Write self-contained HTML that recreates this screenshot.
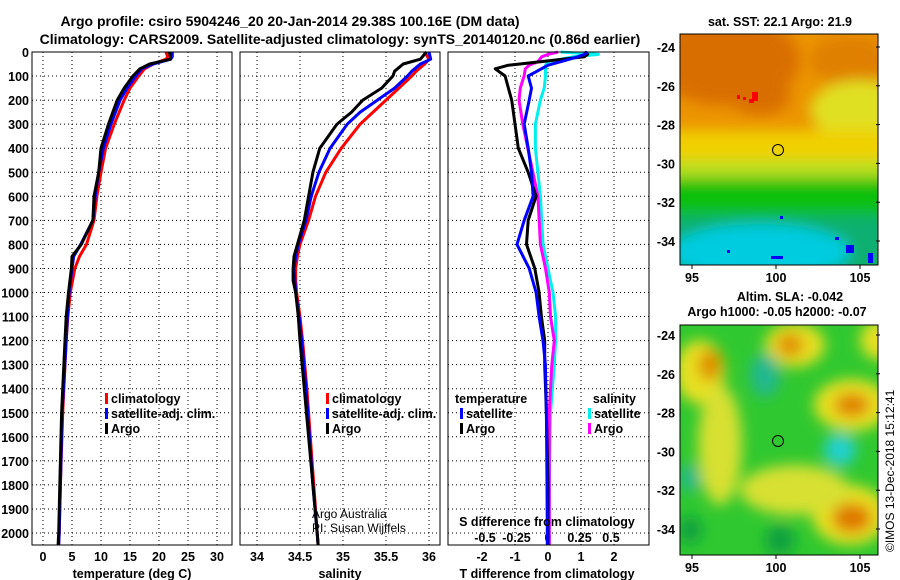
<!DOCTYPE html>
<html><head><meta charset="utf-8"><style>
body{margin:0;background:#fff}
svg{display:block;font-family:"Liberation Sans",sans-serif;font-weight:bold}
text{font-size:12.5px}
</style></head><body>
<svg id="c" width="900" height="580" viewBox="0 0 900 580">
<defs>
<filter id="bl" x="-50%" y="-50%" width="200%" height="200%"><feGaussianBlur stdDeviation="7"/></filter>
<clipPath id="m1"><rect x="680" y="34" width="198" height="231"/></clipPath>
<clipPath id="m2"><rect x="680" y="325" width="198" height="230"/></clipPath>
</defs>
<text x="290" y="26" text-anchor="middle" style="font-size:14px">Argo profile: csiro 5904246_20 20-Jan-2014 29.38S 100.16E (DM data)</text>
<text x="340" y="44" text-anchor="middle" style="font-size:14px">Climatology: CARS2009. Satellite-adjusted climatology: synTS_20140120.nc (0.86d earlier)</text>
<g id="g1"></g>
<g clip-path="url(#m1)">
<rect x="680" y="34" width="198" height="231" fill="#ec9400"/>
<g filter="url(#bl)">
<ellipse cx="725" cy="60" rx="75" ry="45" fill="#d86e00"/>
<ellipse cx="760" cy="95" rx="30" ry="20" fill="#d86e00"/>
<ellipse cx="850" cy="60" rx="40" ry="25" fill="#e08000"/>
<ellipse cx="860" cy="110" rx="50" ry="30" fill="#e0e020"/>
<rect x="660" y="130" width="240" height="40" fill="#f0d000"/>
<rect x="660" y="160" width="240" height="20" fill="#b8e020"/>
<rect x="660" y="178" width="240" height="100" fill="#10c010"/>
<rect x="660" y="215" width="240" height="60" fill="#10b070"/>
<ellipse cx="760" cy="252" rx="90" ry="28" fill="#00cce0"/>
</g>
<rect x="737" y="95" width="3" height="4" fill="#f00"/><rect x="743" y="97" width="3" height="3" fill="#f00"/><rect x="752" y="92" width="6" height="9" fill="#f00"/><rect x="749" y="99" width="5" height="4" fill="#f00"/>
<rect x="835" y="237" width="4" height="3" fill="#00f"/><rect x="846" y="245" width="8" height="8" fill="#00f"/><rect x="868" y="253" width="5" height="10" fill="#00f"/><rect x="771" y="256" width="12" height="3" fill="#00f"/><rect x="727" y="250" width="3" height="3" fill="#00f"/><rect x="780" y="216" width="3" height="3" fill="#00f"/>
<circle cx="778" cy="150" r="5.5" fill="none" stroke="#000"/>
</g>
<rect x="680" y="34" width="198" height="231" fill="none" stroke="#000"/>
<text x="780" y="26" text-anchor="middle">sat. SST: 22.1 Argo: 21.9</text>
<text x="790" y="301" text-anchor="middle">Altim. SLA: -0.042</text>
<text x="777" y="316" text-anchor="middle">Argo h1000: -0.05 h2000: -0.07</text>
<g clip-path="url(#m2)">
<rect x="680" y="325" width="198" height="230" fill="#30c830"/>
<g filter="url(#bl)">
<ellipse cx="700" cy="372" rx="25" ry="32" fill="#e8e020"/>
<ellipse cx="710" cy="365" rx="12" ry="16" fill="#e09000"/>
<ellipse cx="795" cy="345" rx="30" ry="22" fill="#e8e020"/>
<ellipse cx="790" cy="345" rx="14" ry="12" fill="#e09000"/>
<ellipse cx="852" cy="405" rx="38" ry="26" fill="#e8e020"/>
<ellipse cx="852" cy="405" rx="18" ry="12" fill="#e08000"/>
<ellipse cx="850" cy="515" rx="38" ry="30" fill="#e8e020"/>
<ellipse cx="852" cy="518" rx="20" ry="15" fill="#e07800"/>
<ellipse cx="720" cy="445" rx="22" ry="60" fill="#d8e030"/>
<ellipse cx="795" cy="490" rx="55" ry="25" fill="#d8e030"/>
<ellipse cx="880" cy="340" rx="20" ry="20" fill="#e8e020"/>
<ellipse cx="765" cy="375" rx="15" ry="22" fill="#20b890"/>
<ellipse cx="840" cy="450" rx="16" ry="16" fill="#20d0d0"/>
<ellipse cx="690" cy="478" rx="10" ry="14" fill="#20b890"/>
<ellipse cx="780" cy="540" rx="15" ry="15" fill="#10a040"/>
<ellipse cx="690" cy="530" rx="12" ry="14" fill="#10a040"/>
</g>
<circle cx="778" cy="441" r="5.5" fill="none" stroke="#000"/>
</g>
<rect x="680" y="325" width="198" height="230" fill="none" stroke="#000"/>
<text transform="translate(894,552) rotate(-90)" style="font-size:12px;font-weight:normal">©IMOS 13-Dec-2018 15:12:41</text>
<text x="312" y="518" style="font-size:12px;font-weight:normal">Argo Australia</text>
<text x="312" y="532" style="font-size:12px;font-weight:normal">PI: Susan Wijffels</text>
</svg>
<script>
const depthT=[0,20,30,50,70,100,150,200,300,400,500,600,700,800,850,900,1000,1100,1200,1500,1800,2000,2050];
const tempArgo=[21.8,22,22,18.4,16.7,15.5,14,12.8,11.3,10,9.6,8.8,8.6,6.6,5,4.9,4.4,4,3.8,3.2,2.9,2.7,2.6];
const tempClim=[21.2,21.5,21.2,19,17.5,16.5,15,14,12.3,10.8,10,9.3,8.8,7.5,6.3,5.5,4.7,4.3,4,3.4,3,2.8,2.7];
const tempSat=[22.3,22.3,22,19,17,16,14.5,13.3,11.7,10.4,9.6,9,8.6,6.5,5.3,5,4.5,4.2,4,3.3,3,2.8,2.7];
const depthS=[0,30,50,80,100,150,200,250,300,400,500,600,700,800,850,900,950,1000,1100,1200,1400,1600,1800,2000,2050];
const salArgo=[35.97,35.9,35.7,35.6,35.58,35.45,35.23,35.1,34.93,34.73,34.65,34.6,34.55,34.47,34.43,34.42,34.42,34.45,34.48,34.5,34.55,34.6,34.65,34.7,34.71];
const salClim=[35.95,36.0,35.95,35.85,35.8,35.65,35.5,35.35,35.2,34.98,34.8,34.68,34.6,34.5,34.47,34.45,34.45,34.46,34.5,34.53,34.58,34.62,34.66,34.7,34.71];
const salSat=[36.0,36.02,35.9,35.8,35.75,35.6,35.4,35.2,35.05,34.85,34.72,34.63,34.57,34.48,34.45,34.43,34.44,34.45,34.49,34.52,34.57,34.61,34.65,34.7,34.71];
const depthD=[0,10,20,40,55,70,100,150,200,300,400,500,600,700,800,900,1000,1100,1200,1300,1500,1800,2000,2050];
const tdiffArgo=[1.1,1.2,1.1,-0.2,-1.2,-1.6,-1.3,-1.2,-1.1,-1.0,-0.9,-0.6,-0.36,-0.6,-0.65,-0.4,-0.27,-0.2,-0.1,-0.1,-0.05,0,0,0];
const tdiffSat=[1.2,1.1,0.9,0.4,0.0,-0.2,-0.6,-0.5,-0.57,-0.72,-0.6,-0.5,-0.45,-0.72,-0.94,-0.57,-0.36,-0.27,-0.15,-0.08,-0.05,-0.03,-0.02,-0.02];
const sdiffSat=[0.1,0.4,0.2,0.0,-0.02,-0.02,-0.02,-0.03,-0.06,-0.1,-0.1,-0.08,-0.06,-0.05,-0.04,0,0.04,0.06,0.06,0.05,0.02,0.01,0.01,0.01];
const sdiffArgo=[0.08,0.0,-0.05,-0.08,-0.15,-0.18,-0.19,-0.22,-0.23,-0.2,-0.16,-0.12,-0.08,-0.07,-0.06,-0.02,0.01,0.02,0.05,0.03,0.01,0.01,0.01,0.01];
const depthTicks=[0,100,200,300,400,500,600,700,800,900,1000,1100,1200,1300,1400,1500,1600,1700,1800,1900,2000];
const tTicks=[0,5,10,15,20,25,30];
const sTicks=[34,34.5,35,35.5,36];
const tdTicks=[-2,-1,0,1,2];
const sdTicks=[-0.5,-0.25,0,0.25,0.5];
const sdLabels=["-0.5","-0.25","0","0.25","0.5"];
const lonTicks=[95,100,105];
const latTicks=[-24,-26,-28,-30,-32,-34];
const Y=d=>52+d*0.2405;
const xT=v=>43+v*5.8;
const xS=v=>257+(v-34)*86;
const xTD=v=>548+v*33;
const xSD=v=>548+v*126;
const NS='http://www.w3.org/2000/svg';
const g=document.getElementById('g1');
const mg=document.getElementById('c');
function mk(tag,at,parent){const e=document.createElementNS(NS,tag);for(const k in at)e.setAttribute(k,at[k]);(parent||g).appendChild(e);return e;}
function txt(x,y,s,anchor,parent){const e=mk('text',{x:x,y:y,'text-anchor':anchor||'middle'},parent);e.textContent=s;return e;}
const panels=[[32,232],[240,440],[448,649]];
const pTop=52,pBot=545;
let e;
panels.forEach(p=>{
  depthTicks.forEach(d=>{const l=mk('line',{x1:p[0],x2:p[1],y1:Y(d),y2:Y(d),stroke:'#000','stroke-dasharray':'1 3'});
  
  });
});
tTicks.forEach(v=>{const l=mk('line',{x1:xT(v),x2:xT(v),y1:pTop,y2:pBot,stroke:'#000','stroke-dasharray':'1 3'});


const t=txt(xT(v),561,String(v));

});
sTicks.forEach(v=>{const l=mk('line',{x1:xS(v),x2:xS(v),y1:pTop,y2:pBot,stroke:'#000','stroke-dasharray':'1 3'});


const t=txt(xS(v),561,String(v));

});
tdTicks.forEach(v=>{const l=mk('line',{x1:xTD(v),x2:xTD(v),y1:pTop,y2:pBot,stroke:'#000','stroke-dasharray':'1 3'});


const t=txt(xTD(v),561,String(v));

});
sdTicks.forEach((v,i)=>{const t=txt(xSD(v),542,sdLabels[i]);

});
depthTicks.forEach(d=>{const t=txt(29,Y(d)+5,String(d),'end');

});
function line(xs,ds,xf,col){const pts=xs.map((v,i)=>xf(v).toFixed(1)+','+Y(ds[i]).toFixed(1)).join(' ');
return mk('polyline',{points:pts,fill:'none',stroke:col,'stroke-width':3,'stroke-linejoin':'round'});}
e=line(tempClim,depthT,xT,'#f00');


e=line(tempSat,depthT,xT,'#00f');


e=line(tempArgo,depthT,xT,'#000');


e=line(salClim,depthS,xS,'#f00');


e=line(salSat,depthS,xS,'#00f');


e=line(salArgo,depthS,xS,'#000');


e=line(sdiffSat,depthD,xSD,'#00f0f0');


e=line(sdiffArgo,depthD,xSD,'#f0f');


e=line(tdiffArgo,depthD,xTD,'#000');


e=line(tdiffSat,depthD,xTD,'#00f');


panels.forEach(p=>{const r=mk('rect',{x:p[0],y:pTop,width:p[1]-p[0],height:pBot-pTop,fill:'none',stroke:'#000'});

});
[[132,'temperature (deg C)'],[340,'salinity'],[547,'T difference from climatology']].forEach(a=>{const t=txt(a[0],578,a[1]);

});
e=txt(547,526,'S difference from climatology');


function leg(x,y,col,s){mk('rect',{x:x,y:y-10,width:3,height:11,fill:col});const t=txt(x+6,y,s,'start');

}
[105,326].forEach(x=>{leg(x,403,'#f00','climatology');leg(x,418,'#00f','satellite-adj. clim.');leg(x,433,'#000','Argo');});
e=txt(455,403,'temperature','start');


leg(460,418,'#00f','satellite');leg(460,433,'#000','Argo');
e=txt(636,403,'salinity','end');


leg(588,418,'#00f0f0','satellite');leg(588,433,'#f0f','Argo');
lonTicks.forEach(v=>{const x=692+(v-95)*16.8;
[[265,282],[555,572]].forEach(q=>{mk('line',{x1:x,x2:x,y1:q[0],y2:q[0]+4,stroke:'#000'},mg);const t=txt(x,q[1],String(v),'middle',mg);

});});
latTicks.forEach(v=>{[[47,34],[335,325]].forEach(q=>{const y=q[0]+(-24-v)*19.4;
if(y>q[1]+230)return;
mk('line',{x1:876,x2:880,y1:y,y2:y,stroke:'#000'},mg);const t=txt(675,y+5,String(v),'end',mg);

});});
</script>
</body></html>
